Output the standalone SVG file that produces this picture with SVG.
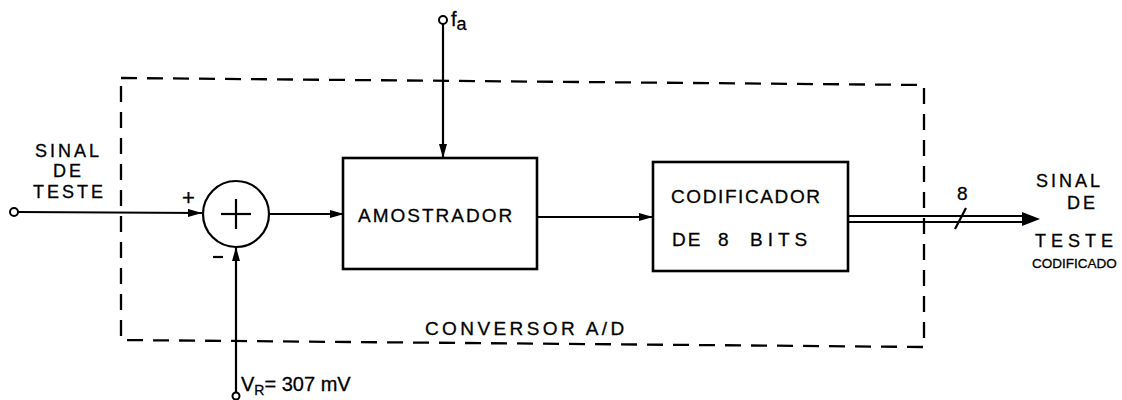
<svg xmlns="http://www.w3.org/2000/svg" width="1122" height="400" viewBox="0 0 1122 400">
<defs>
<marker id="ah" viewBox="0 0 14 8" refX="14" refY="4" markerWidth="14" markerHeight="8" markerUnits="userSpaceOnUse" orient="auto">
<path d="M0,0 L14,4 L0,8 Z" fill="#000"/>
</marker>
</defs>
<style>
.ln{stroke:#000;stroke-width:2.2;fill:none}
.box{stroke:#000;stroke-width:2.6;fill:#fff}
.dash{stroke:#000;stroke-width:2.3;fill:none;stroke-dasharray:16 10}
.term{stroke:#000;stroke-width:2;fill:#fff}
text{font-family:"Liberation Sans",Arial,sans-serif;fill:#000;stroke:#000;stroke-width:0.3}
.t{font-size:19px;letter-spacing:2px}
.s{font-size:18px;letter-spacing:3px}
</style>
<rect width="1122" height="400" fill="#fff"/>
<g id="boundary">
<path class="dash" d="M121,78 L924,85 L924,347 L121,340 Z"/>
<text class="t" x="425" y="335" style="letter-spacing:3.4px">CONVERSOR  A/D</text>
</g>
<g id="connectors">
<line class="ln" x1="18" y1="212" x2="202" y2="213" marker-end="url(#ah)"/>
<line class="ln" x1="236" y1="393" x2="236" y2="247" marker-end="url(#ah)"/>
<line class="ln" x1="443" y1="24" x2="443" y2="158" marker-end="url(#ah)"/>
<line class="ln" x1="270" y1="214" x2="344" y2="214" marker-end="url(#ah)"/>
<line class="ln" x1="537" y1="217" x2="653" y2="217" marker-end="url(#ah)"/>
<line class="ln" x1="848" y1="216" x2="1030" y2="216"/>
<line class="ln" x1="848" y1="222" x2="1030" y2="222"/>
<path d="M1022,212 L1040,219 L1022,226 Z" fill="#000"/>
<line class="ln" x1="955" y1="229" x2="966" y2="208"/>
<text class="t" x="957" y="200" style="letter-spacing:0">8</text>
</g>
<g id="input">
<circle class="term" cx="14" cy="212" r="4"/>
<text class="s" x="35" y="157">SINAL</text>
<text class="s" x="53" y="177">DE</text>
<text class="s" x="33" y="198">TESTE</text>
</g>
<g id="summer">
<circle cx="236" cy="214" r="33" class="ln" fill="#fff"/>
<line class="ln" x1="221" y1="214" x2="251" y2="214"/>
<line class="ln" x1="236" y1="199" x2="236" y2="229"/>
<text x="182" y="205" style="font-size:22px">+</text>
<line class="ln" x1="213" y1="257" x2="223" y2="257"/>
</g>
<g id="vr">
<circle class="term" cx="236" cy="396" r="3.5"/>
<text x="241" y="391" style="font-size:20px">V<tspan font-size="14" dy="4">R</tspan><tspan dy="-4">= 307 mV</tspan></text>
</g>
<g id="fa">
<circle class="term" cx="443" cy="20" r="4"/>
<text x="451" y="26" style="font-size:20px">f<tspan font-size="18" dy="4">a</tspan></text>
</g>
<g id="amostrador">
<rect class="box" x="343" y="158" width="194" height="111"/>
<text class="t" x="358" y="222">AMOSTRADOR</text>
</g>
<g id="codificador">
<rect class="box" x="653" y="162" width="195" height="109"/>
<text class="t" x="671" y="203" style="letter-spacing:1.6px">CODIFICADOR</text>
<text class="t" x="672" y="246">DE</text>
<text class="t" x="718" y="246">8</text>
<text class="t" x="750" y="246" style="letter-spacing:5px">BITS</text>
</g>
<g id="output">
<text class="s" x="1036" y="187">SINAL</text>
<text class="s" x="1067" y="209">DE</text>
<text class="s" x="1035" y="247" style="letter-spacing:5px">TESTE</text>
<text x="1032" y="268" style="font-size:13.5px">CODIFICADO</text>
</g>
</svg>
